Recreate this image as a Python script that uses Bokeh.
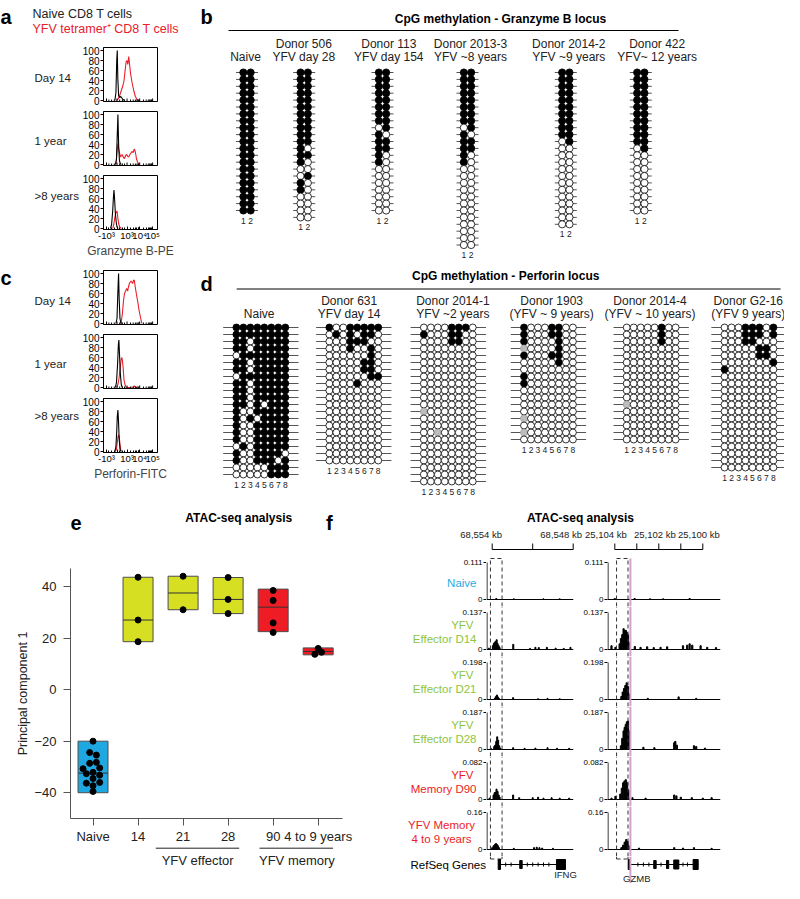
from bokeh.plotting import figure
from bokeh.models import Range1d, FixedTicker
from bokeh.layouts import row, column
from bokeh.embed import file_html
from bokeh.resources import INLINE
from bokeh.core.properties import value

FONT = "Liberation Sans"
RED = "#e8202a"

# ======================= DATA =======================
# --- a / c : flow histograms (x = display channel on biexponential axis, y = % of max)
FLOW_TICK_POS = [5.5, 25, 43.6, 67, 91]
FLOW_TICK_LAB = ["-10³", "", "10³", "10⁴", "10⁵"]
FLOW_MINOR = [10, 15, 20, 30, 35, 39, 50, 55, 59, 62, 64, 65.5, 74, 79, 83, 85.5, 87.5, 89]
FLOW_Y = [0, 20, 40, 60, 80, 100]
FLOW_ROWS = ["Day 14", "1 year", ">8 years"]

gzb_d14_naive_x = [21, 23, 24.5, 25.5, 26.5, 28, 30, 32, 34, 36, 39]
gzb_d14_naive_y = [0, 15, 80, 100, 45, 10, 6, 8, 5, 2, 0]
gzb_d14_yfv_x = [24, 27, 30, 33, 36, 38, 40, 42, 43.6, 45, 46.7, 48, 50, 53, 56, 59, 62, 65]
gzb_d14_yfv_y = [0, 3, 10, 20, 30, 40, 60, 78, 80, 72, 88, 75, 55, 35, 20, 8, 2, 0]
gzb_1y_naive_x = [22, 24, 25.5, 26.7, 28, 29.5, 31, 33]
gzb_1y_naive_y = [0, 10, 60, 100, 40, 8, 2, 0]
gzb_1y_yfv_x = [23, 25.5, 26.7, 28.5, 31.5, 34.5, 37, 38.8, 41, 43, 45, 46.7, 49, 52.7, 55, 57, 59, 61, 63, 66]
gzb_1y_yfv_y = [0, 30, 42, 28, 15, 20, 14, 12, 18, 20, 16, 15, 20, 26, 24, 31, 25, 12, 5, 0]
gzb_8y_naive_x = [13, 15, 17, 18.5, 19.4, 20.5, 22, 23.6, 25, 27]
gzb_8y_naive_y = [0, 8, 35, 65, 77, 60, 30, 12, 3, 0]
gzb_8y_yfv_x = [17, 19, 21, 22.5, 24, 25, 26.5, 28, 30, 33]
gzb_8y_yfv_y = [0, 8, 22, 30, 33, 35, 22, 10, 3, 0]

prf_d14_naive_x = [23, 25, 26.5, 27.9, 29, 30.5, 32, 34]
prf_d14_naive_y = [0, 10, 60, 100, 50, 10, 2, 0]
prf_d14_yfv_x = [30, 32.7, 35, 37, 38.8, 41, 43, 44.8, 46, 47.9, 50.9, 53.9, 55.5, 57, 58.5, 60, 62, 64, 66, 68, 71]
prf_d14_yfv_y = [0, 2, 20, 45, 60, 65, 70, 65, 72, 80, 85, 80, 86, 87, 75, 65, 52, 40, 25, 15, 0]
prf_1y_naive_x = [22, 24, 26, 27.5, 28.5, 29.5, 31, 33, 35]
prf_1y_naive_y = [0, 10, 45, 85, 95, 70, 30, 5, 0]
prf_1y_yfv_x = [25, 27, 29, 31, 33, 34, 35, 36.5, 38, 40, 42, 50, 55, 57, 59, 62]
prf_1y_yfv_y = [0, 8, 20, 40, 58, 60, 55, 38, 15, 5, 0, 0, 1, 3, 1, 0]
prf_8y_naive_x = [21, 23, 24.5, 25.5, 26.7, 27.8, 29, 30.5, 32]
prf_8y_naive_y = [0, 10, 40, 70, 83, 60, 25, 5, 0]
prf_8y_yfv_x = [22, 24, 25.5, 27, 28, 29, 30.5, 32, 34]
prf_8y_yfv_y = [0, 5, 18, 30, 33, 30, 15, 3, 0]

# --- b : Granzyme B locus CpG methylation (1 = methylated, 0 = unmethylated)
GZMB_TITLE = "CpG methylation - Granzyme B locus"
GZMB_LABELS = [("", "Naive"), ("Donor 506", "YFV day 28"), ("Donor 113", "YFV day 154"),
               ("Donor 2013-3", "YFV ~8 years"), ("Donor 2014-2", "YFV ~9 years"), ("Donor 422", "YFV~ 12 years")]
gzmb_naive = "11 11 11 11 11 11 11 11 11 11 11 11 11 11 11 11 11 11 11 11 11".split()
gzmb_506 = "11 11 11 11 11 11 11 11 11 11 11 10 11 10 00 01 10 10 00 00 00 00".split()
gzmb_113 = "11 11 11 11 11 11 11 11 01 10 11 11 10 10 00 00 00 00 00 00 00".split()
gzmb_2013_3 = "11 11 11 11 11 11 11 11 01 10 11 11 10 10 00 00 00 00 00 00 00 00 00 00 00 00".split()
gzmb_2014_2 = "11 11 11 11 11 11 11 11 11 11 01 00 00 00 00 00 00 00 00 00 00 00 00".split()
gzmb_422 = "11 11 11 11 11 11 11 11 11 11 11 01 00 00 00 00 00 00 00 00 00".split()

# --- d : Perforin locus CpG methylation (1 = methylated, 0 = unmethylated, 2 = not determined)
PRF_TITLE = "CpG methylation - Perforin locus"
PRF_LABELS = [("", "Naive"), ("Donor 631", "YFV day 14"), ("Donor 2014-1", "YFV ~2 years"),
              ("Donor 1903", "(YFV ~ 9 years)"), ("Donor 2014-4", "(YFV ~ 10 years)"), ("Donor G2-16", "(YFV 9 years)")]
prf_naive = ("11111111 11111111 11011111 11011111 01111111 11011111 11011111 01111111 11011111 11011111 "
             "11011111 11010111 10011111 10101111 10011111 10011111 10011111 01011111 10011110 10011101 "
             "00000111 00000111").split()
prf_631 = ("10011111 01010110 00011100 00010010 00000010 00000110 00000110 00000011 00001000 00000000 "
           "00000000 00000000 00000000 00000000 00000000 00000000 00000000 00000000 00000000 00000000").split()
prf_2014_1 = ("00001110 10001100 00001100 00000000 00000000 00000000 00000000 00000000 00000000 00000000 "
              "00000000 00000000 20000000 00000000 00000000 00200000 00000000 00000000 00000000 00000000 "
              "00000000 00000000 00000000").split()
prf_1903 = ("10001100 10001100 10000100 20000100 10001100 00000100 00000000 10000000 10000000 00000000 "
            "00000000 00000000 00000000 20000000 00000000 20000000 00000000").split()
prf_2014_4 = ("00000100 00000100 00000100 00000000 00000000 00000000 00000000 00000000 00000000 00000000 "
              "00000000 20000000 00000000 00000000 00000000 00000000 00000000").split()
prf_g2_16 = ("00011101 00011101 00011000 00000110 00000110 00000001 10000000 00000000 00000000 00000000 "
             "00000000 00000000 00000000 00000000 00000000 00000000 00000000 00000000 00000000 00000000 "
             "00000000").split()

# --- e : ATAC-seq principal component 1
PC_GROUPS = ["Naive", "14", "21", "28", "90", "4 to 9 years"]
PC_BOX_LOW = [-40, 18.6, 31, 29.5, 22.5, 13.5]
PC_BOX_HIGH = [-20, 43.6, 44, 43.5, 39, 16.2]
PC_MEDIAN = [-32.4, 27, 37.5, 35, 32, 14.8]
PC_COLORS = ["#1ea7e1", "#d7df23", "#d7df23", "#d7df23", "#ee1d25", "#ee1d25"]
pc_naive = [-20, -24.4, -25.4, -28.2, -28.6, -30.4, -30.7, -32.1, -32.6, -33.2, -34.5, -36.0, -36.3, -37.3, -39.5]
pc_naive_dx = [0, -0.074, 0.074, 0.074, -0.074, 0.148, -0.222, 0, -0.148, 0.148, 0, 0.148, -0.148, 0, 0]
pc_d14 = [43.6, 27, 18.6]
pc_d21 = [44, 31]
pc_d28 = [43.5, 35, 29.5]
pc_d90 = [38.5, 34.6, 25.9, 22.2]
pc_mem = [16.0, 13.7, 14.5]
pc_mem_dx = [0, -0.074, 0.074]
PC_YTICKS = [-40, -20, 0, 20, 40]
PC_SUPER = ["YFV effector", "YFV memory"]

# --- f : ATAC-seq tracks (kb coordinates, signal)
TRACK_NAMES = [["Naive"], ["YFV", "Effector D14"], ["YFV", "Effector D21"], ["YFV", "Effector D28"],
               ["YFV", "Memory D90"], ["YFV Memory", "4 to 9 years"]]
TRACK_COLORS = ["#29abe2", "#8dc63f", "#8dc63f", "#8dc63f", "#ed1c24", "#ed1c24"]
TRACK_MAX = [0.111, 0.137, 0.198, 0.187, 0.082, 0.16]
IFNG_TICKS = [68554, 68551, 68548]
IFNG_TICK_LAB = ["68,554 kb", "", "68,548 kb"]
GZMB_TICKS = [25104, 25103, 25102, 25101, 25100]
GZMB_TICK_LAB = ["25,104 kb", "", "25,102 kb", "", "25,100 kb"]
IFNG_BOX = [68554.13, 68553.27]
GZMB_BOX = [25103.92, 25103.40]
GZMB_MARK = 25103.29

ifng_naive_kb = [68553.7, 68552.4, 68550.2, 68549.0]
ifng_naive = [0.003, 0.002, 0.002, 0.002]
ifng_d14_kb = [68554.25, 68553.95, 68553.88, 68553.81, 68553.74, 68553.67, 68553.6, 68553.52, 68553.45, 68552.44,
               68551.2, 68550.8, 68550.55, 68549.95, 68549.3, 68548.7, 68548.2]
ifng_d14 = [0.005, 0.014, 0.022, 0.027, 0.030, 0.036, 0.022, 0.014, 0.007, 0.019, 0.004, 0.008, 0.007, 0.008,
            0.005, 0.004, 0.008]
ifng_d21_kb = [68553.8, 68553.72, 68553.65, 68553.58, 68553.5, 68552.45, 68550.6, 68549.9, 68549.0]
ifng_d21 = [0.008, 0.016, 0.024, 0.014, 0.006, 0.010, 0.004, 0.006, 0.004]
ifng_d28_kb = [68554.1, 68553.85, 68553.78, 68553.7, 68553.63, 68553.56, 68553.48, 68553.4, 68552.45, 68551.6,
               68550.8, 68549.9, 68549.2, 68548.3]
ifng_d28 = [0.006, 0.015, 0.022, 0.041, 0.064, 0.047, 0.019, 0.007, 0.009, 0.006, 0.007, 0.009, 0.006, 0.006]
ifng_d90_kb = [68554.2, 68553.9, 68553.82, 68553.75, 68553.68, 68553.6, 68553.52, 68553.45, 68552.45, 68552.0,
               68551.0, 68550.6, 68550.2, 68549.6, 68549.0, 68548.3]
ifng_d90 = [0.003, 0.010, 0.015, 0.016, 0.023, 0.018, 0.010, 0.005, 0.010, 0.004, 0.004, 0.005, 0.003, 0.004,
            0.003, 0.003]
ifng_mem_kb = [68554.0, 68553.9, 68553.8, 68553.72, 68553.65, 68553.57, 68553.5, 68552.4, 68550.9, 68550.7,
               68550.5, 68550.3, 68549.5]
ifng_mem = [0.008, 0.016, 0.022, 0.026, 0.022, 0.016, 0.008, 0.005, 0.008, 0.010, 0.008, 0.006, 0.005]

gzmb_naive_kb = [25104.0, 25103.1, 25102.4, 25101.8, 25100.6]
gzmb_naive_sig = [0.003, 0.003, 0.002, 0.002, 0.003]
gzmb_d14_kb = [25104.15, 25103.97, 25103.78, 25103.72, 25103.66, 25103.6, 25103.55, 25103.5, 25103.45, 25103.4,
               25103.35, 25103.09, 25102.83, 25102.53, 25102.23, 25101.92, 25101.62, 25100.9, 25100.71, 25100.6,
               25100.48, 25100.1, 25099.8, 25099.4]
gzmb_d14_sig = [0.014, 0.008, 0.021, 0.041, 0.055, 0.077, 0.069, 0.071, 0.063, 0.055, 0.027, 0.011, 0.008, 0.010,
                0.007, 0.008, 0.010, 0.014, 0.016, 0.021, 0.016, 0.014, 0.008, 0.007]
gzmb_d21_kb = [25103.7, 25103.64, 25103.58, 25103.52, 25103.46, 25103.4, 25103.35, 25101.1, 25102.5, 25100.3]
gzmb_d21_sig = [0.016, 0.040, 0.059, 0.075, 0.089, 0.069, 0.030, 0.014, 0.006, 0.006]
gzmb_d28_kb = [25103.72, 25103.66, 25103.6, 25103.55, 25103.5, 25103.45, 25103.4, 25103.35, 25102.7, 25102.2,
               25101.3, 25101.25, 25101.18, 25100.4, 25100.3, 25099.9]
gzmb_d28_sig = [0.019, 0.056, 0.094, 0.112, 0.127, 0.140, 0.144, 0.094, 0.011, 0.009, 0.034, 0.041, 0.022, 0.019,
                0.015, 0.007]
gzmb_d90_kb = [25104.15, 25103.97, 25103.75, 25103.68, 25103.62, 25103.56, 25103.5, 25103.44, 25103.38, 25103.2,
               25102.6, 25101.3, 25101.2, 25101.0, 25100.5, 25100.0, 25099.6]
gzmb_d90_sig = [0.003, 0.007, 0.012, 0.025, 0.037, 0.041, 0.044, 0.037, 0.021, 0.004, 0.003, 0.010, 0.008, 0.005,
                0.004, 0.003, 0.004]
gzmb_mem_kb = [25103.7, 25103.62, 25103.55, 25103.48, 25103.42, 25103.36, 25102.9, 25101.3, 25100.9, 25100.4, 25099.6]
gzmb_mem_sig = [0.008, 0.019, 0.032, 0.043, 0.035, 0.016, 0.006, 0.008, 0.006, 0.008, 0.005]

# gene models (kb start, kb end, exon height)
IFNG_EXONS = [(68553.556, 68553.385, 10), (68551.96, 68551.78, 8), (68549.24, 68548.57, 10)]
IFNG_STRAND = [68553.0, 68552.6, 68551.4, 68551.0, 68550.6, 68550.2, 68549.8]
GZMB_EXONS = [(25103.39, 25103.29, 10), (25102.23, 25102.12, 8), (25101.65, 25101.55, 8),
              (25101.32, 25101.09, 9), (25100.44, 25100.21, 10)]
GZMB_STRAND = [25102.95, 25102.7, 25102.45, 25101.9, 25100.9, 25100.7]


# ======================= HELPERS =======================
class Fig:
    def __init__(self, w, h, l, r, t, b, xr, yr, xaxis=None, yaxis=None):
        self.w, self.h, self.l, self.r, self.t, self.b = w, h, l, r, t, b
        self.xr, self.yr = xr, yr
        self.p = figure(width=w, height=h, x_range=Range1d(xr[0], xr[1]), y_range=Range1d(yr[0], yr[1]),
                        min_border_left=l, min_border_right=r, min_border_top=t, min_border_bottom=b,
                        x_axis_location=xaxis, y_axis_location=yaxis,
                        output_backend="svg", toolbar_location=None)
        self.p.outline_line_color = None
        self.p.xgrid.visible = False
        self.p.ygrid.visible = False


def canvas(w, h):
    """a figure whose whole area is the frame, in local pixel units (y down)"""
    return Fig(w, h, 0, 0, 0, 0, (0, w), (h, 0))


def txt(p, x, y, text, size=12, color="black", align="left", bold=False, baseline="middle"):
    if not isinstance(x, list):
        x, y, text = [x], [y], [text]
    p.text(x=x, y=y, text=text, text_font=value(FONT), text_font_size=value(f"{size}px"), text_color=color,
           text_align=align, text_baseline=baseline, text_font_style="bold" if bold else "normal")


def style_axis(ax, size=10, color="black"):
    ax.major_label_text_font = FONT
    ax.major_label_text_font_size = f"{size}px"
    ax.major_label_text_color = color
    ax.axis_label_text_font = FONT
    ax.axis_label_text_font_style = "normal"
    ax.axis_line_color = color
    ax.major_tick_line_color = color
    ax.minor_tick_line_color = color


HF = 54  # histogram frame height (px)


def hist_row(h, t, b, nx, ny, yx, yy, rowlab, xlabel=None, letter=None):
    lab = canvas(79, h)
    txt(lab.p, 34, t + HF * 0.57, rowlab, size=11.5, color="#222")
    if letter:
        txt(lab.p, 0, 10, letter, size=20, bold=True, baseline="alphabetic")
    f = Fig(121, h, 23, 43, t, b, (0, 100), (-2, 106), xaxis="below" if xlabel else None, yaxis="left")
    p = f.p
    p.outline_line_color = "black"
    p.line(yx, yy, line_color=RED, line_width=1.1)
    p.line(nx, ny, line_color="black", line_width=1.1)
    ya = p.yaxis[0]
    style_axis(ya, 10)
    ya.ticker = FixedTicker(ticks=FLOW_Y)
    ya.major_tick_out = 3
    ya.major_tick_in = 0
    ya.minor_tick_out = 0
    ya.minor_tick_in = 0
    ya.major_label_standoff = 1
    if xlabel:
        xa = p.xaxis[0]
        style_axis(xa, 9.5)
        xa.ticker = FixedTicker(ticks=FLOW_TICK_POS, minor_ticks=FLOW_MINOR)
        xa.major_tick_in = 3
        xa.major_tick_out = 0
        xa.minor_tick_in = 2
        xa.minor_tick_out = 0
        xa.major_label_overrides = {pos: l for pos, l in zip(FLOW_TICK_POS, FLOW_TICK_LAB)}
        xa.major_label_standoff = 0
        xa.axis_label = xlabel
        xa.axis_label_text_font_size = "12px"
        xa.axis_label_standoff = 0
    else:
        per_px = 108 / HF
        p.segment(x0=FLOW_TICK_POS, x1=FLOW_TICK_POS, y0=[-2] * len(FLOW_TICK_POS),
                  y1=[-2 + 3 * per_px] * len(FLOW_TICK_POS), line_color="black")
        p.segment(x0=FLOW_MINOR, x1=FLOW_MINOR, y0=[-2] * len(FLOW_MINOR),
                  y1=[-2 + 2 * per_px] * len(FLOW_MINOR), line_color="black")
    return row(lab.p, p)


def meth_panel(f, letter, letter_y, title, title_xy, rule, labels, label_cx, label_y, patterns, cols_cx, y0,
               px, py, rad, ext, num_dy):
    p = f.p
    txt(p, 200, letter_y, letter, size=20, bold=True, baseline="alphabetic")
    txt(p, title_xy[0], title_xy[1], title, size=12, bold=True, align="center")
    p.segment(x0=[rule[0]], y0=[rule[2]], x1=[rule[1]], y1=[rule[2]], line_color="black", line_width=1)
    tx, ty, tt = [], [], []
    for (l1, l2), cx in zip(labels, label_cx):
        if l1:
            tx.append(cx); ty.append(label_y[0]); tt.append(l1)
        tx.append(cx); ty.append(label_y[1]); tt.append(l2)
    txt(p, tx, ty, tt, size=12, color="#222", align="center")
    lx0, lx1, ly = [], [], []
    cxs, cys, fills, lines = [], [], [], []
    nx, ny, nt = [], [], []
    for rows, cx in zip(patterns, cols_cx):
        ncol = len(rows[0])
        for i, s in enumerate(rows):
            y = y0 + i * py
            lx0.append(cx - ext); lx1.append(cx + ext); ly.append(y)
            for j, ch in enumerate(s):
                cxs.append(cx + (j - (ncol - 1) / 2) * px)
                cys.append(y)
                fills.append({"1": "black", "0": "white", "2": "#bdbdbd"}[ch])
                lines.append("#9a9a9a" if ch == "2" else "black")
        for j in range(ncol):
            nx.append(cx + (j - (ncol - 1) / 2) * px)
            ny.append(y0 + (len(rows) - 1) * py + num_dy)
            nt.append(str(j + 1))
    p.segment(x0=lx0, y0=ly, x1=lx1, y1=ly, line_color="#555555", line_width=1)
    p.circle(x=cxs, y=cys, radius=rad, fill_color=fills, line_color=lines, line_width=0.8)
    txt(p, nx, ny, nt, size=8.5, color="#222", align="center")


# ======================= PANELS a / c =======================
headA = canvas(200, 40)
txt(headA.p, 0, 16, "a", size=20, bold=True, baseline="alphabetic")
txt(headA.p, 32, 13, "Naive CD8 T cells", size=12.5, color="#222")
txt(headA.p, 32, 28, "YFV tetramer⁺ CD8 T cells", size=12.5, color=RED)
colA = column(
    headA.p,
    hist_row(67, 7, 6, gzb_d14_naive_x, gzb_d14_naive_y, gzb_d14_yfv_x, gzb_d14_yfv_y, FLOW_ROWS[0]),
    hist_row(64, 4, 6, gzb_1y_naive_x, gzb_1y_naive_y, gzb_1y_yfv_x, gzb_1y_yfv_y, FLOW_ROWS[1]),
    hist_row(91, 4, 33, gzb_8y_naive_x, gzb_8y_naive_y, gzb_8y_yfv_x, gzb_8y_yfv_y, FLOW_ROWS[2],
             xlabel="Granzyme B-PE"),
)
colC = column(
    hist_row(68, 8, 6, prf_d14_naive_x, prf_d14_naive_y, prf_d14_yfv_x, prf_d14_yfv_y, FLOW_ROWS[0], letter="c"),
    hist_row(64, 4, 6, prf_1y_naive_x, prf_1y_naive_y, prf_1y_yfv_x, prf_1y_yfv_y, FLOW_ROWS[1]),
    hist_row(106, 4, 48, prf_8y_naive_x, prf_8y_naive_y, prf_8y_yfv_x, prf_8y_yfv_y, FLOW_ROWS[2],
             xlabel="Perforin-FITC"),
)

# ======================= PANELS b / d =======================
fb = Fig(584, 262, 0, 0, 0, 0, (200, 784), (262, 0))
meth_panel(fb, "b", 16, GZMB_TITLE, (500, 18), (228, 678, 30), GZMB_LABELS,
           [245, 303.3, 388.3, 470, 568.3, 656.7], (43, 56),
           [gzmb_naive, gzmb_506, gzmb_113, gzmb_2013_3, gzmb_2014_2, gzmb_422],
           [246.5, 303.7, 382, 467, 565.3, 640.3], 72, 7.3, 6.9, 3.6, 11, 10)

fd = Fig(584, 238, 0, 0, 0, 0, (200, 797), (500, 262))
meth_panel(fd, "d", 283, PRF_TITLE, (512, 275), (237, 793, 288.5), PRF_LABELS,
           [260, 352, 458, 559, 659.5, 760], (300.5, 313.5),
           [prf_naive, prf_631, prf_2014_1, prf_1903, prf_2014_4, prf_g2_16],
           [261.7, 356.7, 453.3, 555.7, 660.7, 760.7], 327, 7.14, 7.0, 3.55, 38.5, 10.5)

# ======================= PANEL e =======================
headE = canvas(380, 68)
txt(headE.p, 0, 22, "e", size=20, bold=True, baseline="alphabetic")
txt(headE.p, 235, 17, "ATAC-seq analysis", size=12, bold=True, align="center")
txt(headE.p, 357, 22, "f", size=20, bold=True, baseline="alphabetic")

fe = Fig(380, 278, 70, 38, 0, 26, (-0.5, 5.54), (-50, 47), xaxis="below", yaxis="left")
pe = fe.p
xs = list(range(len(PC_GROUPS)))
pe.quad(left=[x - 0.333 for x in xs], right=[x + 0.333 for x in xs], bottom=PC_BOX_LOW, top=PC_BOX_HIGH,
        fill_color=PC_COLORS, line_color="#4d4d4d", line_width=1)
pe.segment(x0=[x - 0.333 for x in xs], x1=[x + 0.333 for x in xs], y0=PC_MEDIAN, y1=PC_MEDIAN,
           line_color="#333333", line_width=1)
px_, py_ = [], []
for vals, gi, dx in [(pc_naive, 0, pc_naive_dx), (pc_d14, 1, None), (pc_d21, 2, None), (pc_d28, 3, None),
                     (pc_d90, 4, None), (pc_mem, 5, pc_mem_dx)]:
    for k, v in enumerate(vals):
        px_.append(gi + (dx[k] if dx else 0))
        py_.append(v)
pe.scatter(px_, py_, size=6, color="black")
xa = pe.xaxis[0]
style_axis(xa, 13, "#555555")
xa.major_label_text_color = "#222"
xa.ticker = FixedTicker(ticks=xs)
xa.major_label_overrides = {i: g for i, g in enumerate(PC_GROUPS)}
xa.major_tick_out = 7
xa.major_tick_in = 0
xa.minor_tick_out = 0
xa.minor_tick_in = 0
xa.major_label_standoff = 3
ya = pe.yaxis[0]
style_axis(ya, 13, "#555555")
ya.major_label_text_color = "#222"
ya.ticker = FixedTicker(ticks=PC_YTICKS)
ya.major_tick_out = 7
ya.major_tick_in = 0
ya.minor_tick_out = 0
ya.minor_tick_in = 0
ya.major_label_standoff = 7
ya.axis_label = "Principal component 1"
ya.axis_label_text_font_size = "12.5px"
ya.axis_label_text_color = "#222"
ya.axis_label_standoff = 1

# group brackets under the axis: (line start, line end, label centre) in category units
SUPER_SPAN = [(0.59, 3.18, 1.89), (3.81, 6.09, 4.97)]
footE = Fig(380, 37, 0, 0, 0, 0, (-0.5 - 70 / 45, 5.54 + 38 / 45), (37, 0))
for name, (g0, g1, gc) in zip(PC_SUPER, SUPER_SPAN):
    footE.p.segment(x0=[g0], y0=[1.7], x1=[g1], y1=[1.7], line_color="#222", line_width=1)
    txt(footE.p, gc, 14, name, size=13, color="#222", align="center")
colE = column(headE.p, pe, footE.p)

# ======================= PANEL f =======================
IFNG_PX = 13.5   # px per kb, IFNG window
GZMB_PX = 22.0   # px per kb, GZMB window
IFNG_XR = (68554 + 5.7 / IFNG_PX, 68548 - 0.3 / IFNG_PX)
GZMB_XR = (25104 + 7.3 / GZMB_PX, 25104 - 105.7 / GZMB_PX)
TRACK_H = 50
TOP_PAD, BOT_PAD = 6, 7      # px above the max tick / below the zero line inside each track band
DASH = "4 3"
PINK = "#d3a3cf"

headF = canvas(404, 56)
txt(headF.p, 200, 17, "ATAC-seq analysis", size=12, bold=True, align="center")


def ifng_px(kb):
    return 111.7 + (68554 - kb) * IFNG_PX


def gzmb_px(kb):
    return 234.3 + (25104 - kb) * GZMB_PX


for ticks, labs, conv, offs in [(IFNG_TICKS, IFNG_TICK_LAB, ifng_px, [-11, 0, -12]),
                                (GZMB_TICKS, GZMB_TICK_LAB, gzmb_px, [-9, 0, -4, 0, -4])]:
    tp = [conv(t) for t in ticks]
    headF.p.segment(x0=[tp[0]], y0=[49], x1=[tp[-1]], y1=[49], line_color="black", line_width=1)
    headF.p.segment(x0=tp, y0=[43] * len(tp), x1=tp, y1=[49] * len(tp), line_color="black", line_width=1)
    txt(headF.p, [t + o for t, o in zip(tp, offs)], [34] * len(tp), labs, size=9.5, color="#222",
        align="center")

IFNG_TRACKS = [(ifng_naive_kb, ifng_naive), (ifng_d14_kb, ifng_d14), (ifng_d21_kb, ifng_d21),
               (ifng_d28_kb, ifng_d28), (ifng_d90_kb, ifng_d90), (ifng_mem_kb, ifng_mem)]
GZMB_TRACKS = [(gzmb_naive_kb, gzmb_naive_sig), (gzmb_d14_kb, gzmb_d14_sig), (gzmb_d21_kb, gzmb_d21_sig),
               (gzmb_d28_kb, gzmb_d28_sig), (gzmb_d90_kb, gzmb_d90_sig), (gzmb_mem_kb, gzmb_mem_sig)]
SPAN = TRACK_H - TOP_PAD - BOT_PAD


def track(side, k):
    m = TRACK_MAX[k]
    yr = (-m * BOT_PAD / SPAN, m * (SPAN + TOP_PAD) / SPAN)
    if side == "L":
        f = Fig(94, TRACK_H, 0, 7, 0, 0, IFNG_XR, yr)
        kb, sig = IFNG_TRACKS[k]
        box, width = IFNG_BOX, 0.075
    else:
        f = Fig(204, TRACK_H, 27, 64, 0, 0, GZMB_XR, yr, yaxis="left")
        kb, sig = GZMB_TRACKS[k]
        box, width = GZMB_BOX, 0.055
        ya = f.p.yaxis[0]
        style_axis(ya, 8)
        ya.axis_line_color = None
        ya.ticker = FixedTicker(ticks=[0, m])
        ya.major_label_overrides = {0: "0", m: f"{m:g}"}
        ya.major_tick_out = 3
        ya.major_tick_in = 0
        ya.minor_tick_out = 0
        ya.minor_tick_in = 0
        ya.major_label_standoff = 1
    p = f.p
    xr = f.xr
    ax_x = xr[0] + 0.5 * (xr[1] - xr[0]) / (f.w - f.l - f.r)
    p.segment(x0=[ax_x], y0=[0], x1=[ax_x], y1=[m], line_color="black", line_width=1)
    p.segment(x0=[xr[0]], y0=[0], x1=[xr[1]], y1=[0], line_color="black", line_width=1)
    p.vbar(x=kb, top=sig, bottom=0, width=width, color="black")
    top = m * (SPAN + 4) / SPAN if k == 0 else yr[1]
    p.segment(x0=box, y0=[yr[0]] * 2, x1=box, y1=[top] * 2, line_color="#333333", line_dash=DASH, line_width=1)
    if k == 0:
        p.segment(x0=[box[0]], y0=[top], x1=[box[1]], y1=[top], line_color="#333333", line_dash=DASH, line_width=1)
    if side == "R":
        p.segment(x0=[GZMB_MARK], y0=[yr[0]], x1=[GZMB_MARK], y1=[top], line_color=PINK, line_width=2)
    return p


# track names + the scale of the IFNG (left) tracks
names = canvas(106, TRACK_H * 6)
tick_y, tick_lab = [], []
for k, (nm, col) in enumerate(zip(TRACK_NAMES, TRACK_COLORS)):
    base = k * TRACK_H + TRACK_H - BOT_PAD
    tick_y += [base - SPAN, base]
    tick_lab += [f"{TRACK_MAX[k]:g}", "0"]
    if len(nm) == 1:
        txt(names.p, 96, base - 17, nm[0], size=11.5, color=col, align="right")
    elif k == 5:
        txt(names.p, 61, base - 25, nm[0], size=11.5, color=col, align="center")
        txt(names.p, 61, base - 11, nm[1], size=11.5, color=col, align="center")
    else:
        txt(names.p, 93, base - 25, nm[0], size=11.5, color=col, align="right")
        txt(names.p, 96, base - 11, nm[1], size=11.5, color=col, align="right")
names.p.segment(x0=[103] * len(tick_y), y0=tick_y, x1=[106] * len(tick_y), y1=tick_y, line_color="black")
txt(names.p, [102] * len(tick_y), tick_y, tick_lab, size=8, color="black", align="right")

bodyF = row(names.p, column(*[track("L", k) for k in range(6)]), column(*[track("R", k) for k in range(6)]))

GENE_H = 27
glab = canvas(106, GENE_H)
txt(glab.p, 30, 8, "RefSeq Genes", size=11.5, color="black")


def gene(side):
    if side == "L":
        f = Fig(94, GENE_H, 0, 0, 0, 0, (IFNG_XR[0], IFNG_XR[0] - 94 / IFNG_PX), (GENE_H, 0))
        exons, strand, box, name, lx, ly = IFNG_EXONS, IFNG_STRAND, IFNG_BOX, "IFNG", 68548.57, 18
    else:
        f = Fig(204, GENE_H, 0, 0, 0, 0, (25104 + 34.3 / GZMB_PX, 25104 - 169.7 / GZMB_PX), (GENE_H, 0))
        exons, strand, box, name, lx, ly = GZMB_EXONS, GZMB_STRAND, GZMB_BOX, "GZMB", 25103.0, 22
    p = f.p
    gy = 8
    p.segment(x0=box, y0=[0, 0], x1=box, y1=[2.5, 2.5], line_color="#333333")
    p.segment(x0=[box[0]], y0=[2.5], x1=[box[1]], y1=[2.5], line_color="#333333", line_dash=DASH)
    p.segment(x0=[exons[0][0]], y0=[gy], x1=[exons[-1][1]], y1=[gy], line_color="black", line_width=1.2)
    p.segment(x0=strand, y0=[gy - 2] * len(strand), x1=strand, y1=[gy + 2] * len(strand), line_color="black")
    p.quad(left=[e[0] for e in exons], right=[e[1] for e in exons], top=[gy - e[2] / 2 for e in exons],
           bottom=[gy + e[2] / 2 for e in exons], color="black")
    if side == "R":
        p.segment(x0=[GZMB_MARK], y0=[0], x1=[GZMB_MARK], y1=[GENE_H], line_color=PINK, line_width=2)
    txt(p, lx, ly, name, size=9.5, color="#222", align="center")
    return p


geneF = row(glab.p, gene("L"), gene("R"))
colF = column(headF.p, bodyF, geneF)

# ======================= LAYOUT =======================
layout = column(
    row(colA, fb.p),
    row(colC, fd.p),
    row(colE, colF),
)

open("out.html", "w").write(file_html(layout, INLINE))
